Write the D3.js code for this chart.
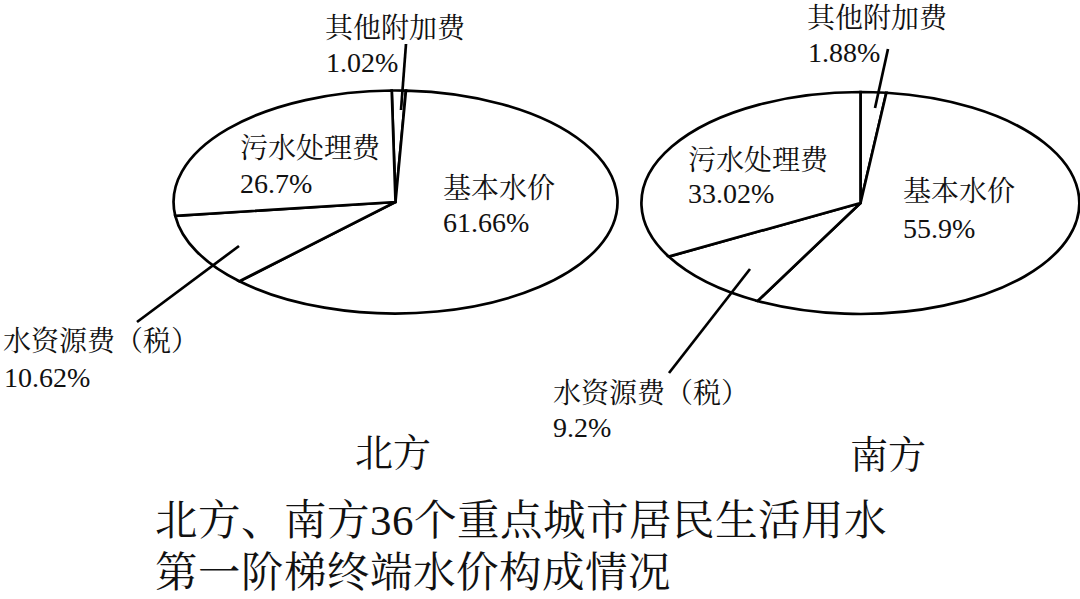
<!DOCTYPE html>
<html><head><meta charset="utf-8">
<script src="https://cdn.jsdelivr.net/npm/d3@7"></script>
<style>
@font-face { font-family: "ChartLatin"; src: local("Liberation Serif"), local("LiberationSerif"), local("Liberation Serif Regular"); }
@font-face { font-family: "ChartCJK"; src: local("Noto Serif CJK SC"), local("NotoSerifCJKsc-Regular"), local("Noto Serif CJK SC Regular"); }
</style>
</head>
<body style="margin:0">
<svg id="chart" width="1080" height="599"></svg>
<script>
// ---- data ----
const categories = ["其他附加费", "基本水价", "水资源费（税）", "污水处理费"];
const northValues = [1.02, 61.66, 10.62, 26.7];
const southValues = [1.88, 55.9, 9.2, 33.02];
const northLabels = ["1.02%", "61.66%", "10.62%", "26.7%"];
const southLabels = ["1.88%", "55.9%", "9.2%", "33.02%"];
const pieTitles = ["北方", "南方"];
const titleLines = ["北方、南方36个重点城市居民生活用水", "第一阶梯终端水价构成情况"];

// ---- layout ----
const FONT = "ChartLatin, ChartCJK, Liberation Serif, Noto Serif CJK SC, serif";
const svg = d3.select("#chart");
svg.append("rect").attr("width", 1080).attr("height", 599).attr("fill", "#fff");
const pies = [
  {values: northValues, labels: northLabels, title: pieTitles[0], cx: 395.5, cy: 202, rx: 222, ry: 111.5, start: -1,
   lab: [[325, 38, 326, 72], [443, 198, 443, 232], [3, 351, 4, 387], [240, 158, 240, 193]],
   leaders: [[401, 110, 406, 44], null, [239, 246, 137, 322], null],
   tx: 355, ty: 466},
  {values: southValues, labels: southLabels, title: pieTitles[1], cx: 860.5, cy: 203, rx: 219, ry: 111, start: 0,
   lab: [[807, 28, 808, 62], [903, 201, 903, 238], [553, 403, 553, 437], [688, 170, 688, 203]],
   leaders: [[875, 108, 888, 49], null, [750, 269, 669, 373], null],
   tx: 850, ty: 468}
];

const arc = d3.arc().innerRadius(0).outerRadius(1);

function addText(x, y, size, str) {
  return svg.append("text").attr("x", x).attr("y", y).attr("font-size", size)
    .attr("fill", "#111").attr("font-family", FONT).style("font-family", FONT).text(str);
}

pies.forEach(p => {
  const s0 = p.start * Math.PI / 180;
  const pie = d3.pie().sort(null).value(d => d).startAngle(s0).endAngle(s0 + 2 * Math.PI);
  const arcs = pie(p.values);
  const g = svg.append("g").attr("transform", `translate(${p.cx},${p.cy}) scale(${p.rx},${p.ry})`);
  g.selectAll("path").data(arcs).join("path")
    .attr("d", arc)
    .attr("fill", "#fff")
    .attr("stroke", "#000")
    .attr("stroke-width", 2.7)
    .attr("vector-effect", "non-scaling-stroke");

  arcs.forEach((a, i) => {
    const L = p.lab[i];
    addText(L[0], L[1], 28, categories[i]);
    addText(L[2], L[3], 28, p.labels[i]);
    const ld = p.leaders[i];
    if (ld) {
      svg.append("line").attr("x1", ld[0]).attr("y1", ld[1]).attr("x2", ld[2]).attr("y2", ld[3])
        .attr("stroke", "#000").attr("stroke-width", 2.7);
    }
  });

  addText(p.tx, p.ty, 38, p.title);
});

titleLines.forEach((t, i) => addText(155, 535 + i * 52, 42.5, t));
</script>
</body></html>
